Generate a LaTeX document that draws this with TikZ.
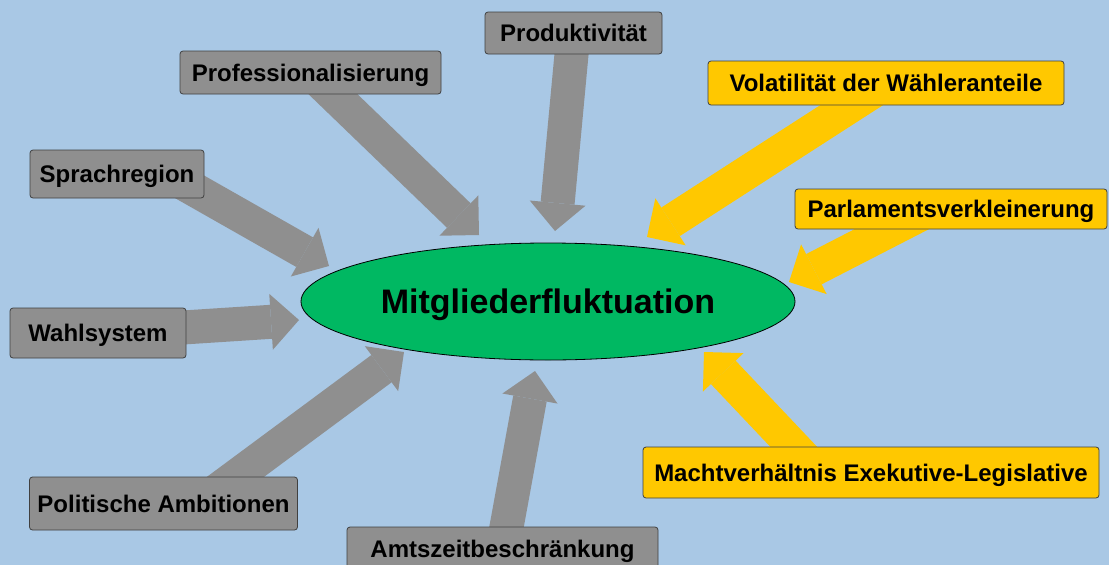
\documentclass[tikz,border=0pt]{standalone}
\usepackage{fontspec}
\setmainfont{Liberation Sans}
\usetikzlibrary{arrows.meta,shapes.geometric}

\definecolor{sky}{HTML}{A9C8E5}
\definecolor{boxgray}{HTML}{8F8F8F}
\definecolor{amber}{HTML}{FFC800}
\definecolor{leaf}{HTML}{00B862}

\pgfdeclarelayer{back}
\pgfsetlayers{back,main}

\begin{document}
\begin{tikzpicture}[
    x=1pt, y=-1pt,
    cause/.style={draw=black!75, line width=0.8pt, fill=boxgray, rounded corners=3pt, inner sep=0pt,
        text height=17pt, text depth=0pt, font=\bfseries\fontsize{24}{28}\selectfont},
    hint/.style={cause, fill=amber},
    push/.style={line width=34pt, color=boxgray, -{Triangle[length=28pt, width=56pt, line width=0pt]}},
    pull/.style={push, color=amber}
]

\useasboundingbox (0,0) rectangle (1109,565);

\node (core) [ellipse, draw, line width=0.8pt, fill=leaf, inner sep=0pt, minimum width=494pt, minimum height=117pt,
    text height=24pt, text depth=0pt, font=\bfseries\fontsize{34}{40}\selectfont] at (548,301.5) {Mitgliederfluktuation};

\node (prod) [cause, minimum width=177pt, minimum height=42pt] at (573.5,33) {Produktivität};
\node (prof) [cause, minimum width=261pt, minimum height=43pt] at (310.5,72.5) {Professionalisierung};
\node (spr) [cause, minimum width=174pt, minimum height=48pt] at (117,174) {Sprachregion};
\node (wahl) [cause, minimum width=176pt, minimum height=50pt] at (98,333) {Wahlsystem};
\node (pol) [cause, minimum width=268pt, minimum height=53pt] at (163.5,503.5) {Politische Ambitionen};
\node (amt) [cause, minimum width=311pt, minimum height=44pt] at (502.5,549) {Amtszeitbeschränkung};
\node (vol) [hint, minimum width=356pt, minimum height=44pt] at (886,83) {Volatilität der Wähleranteile};
\node (parl) [hint, minimum width=312pt, minimum height=40pt] at (951,209) {Parlamentsverkleinerung};
\node (macht) [hint, minimum width=456pt, minimum height=51pt] at (871,472.5) {Machtverhältnis Exekutive-Legislative};

% arrow tips, just short of the ellipse
\coordinate (tprod) at (555,231);
\coordinate (tprof) at (479,235);
\coordinate (tspr) at (329,266);
\coordinate (twahl) at (299,320);
\coordinate (tpol) at (404,352);
\coordinate (tamt) at (535,371);
\coordinate (tvol) at (647,237);
\coordinate (tparl) at (789,282);
\coordinate (tmacht) at (704,352);

\begin{pgfonlayer}{back}
\fill [sky] (0,0) rectangle (1109,565);

\draw [push] (prod.center) -- (tprod);
\draw [push] (prof.center) -- (tprof);
\draw [push] ([xshift=50pt]spr.center) -- (tspr);
\draw [push] (wahl.center) -- (twahl);
\draw [push] ([xshift=36pt]pol.center) -- (tpol);
\draw [push] (amt.center) -- (tamt);

\draw [pull] (vol.center) -- (tvol);
\draw [pull] ([xshift=-20pt]parl.center) -- (tparl);
\draw [pull] ([xshift=-53pt]macht.center) -- (tmacht);
\end{pgfonlayer}

\end{tikzpicture}
\end{document}
